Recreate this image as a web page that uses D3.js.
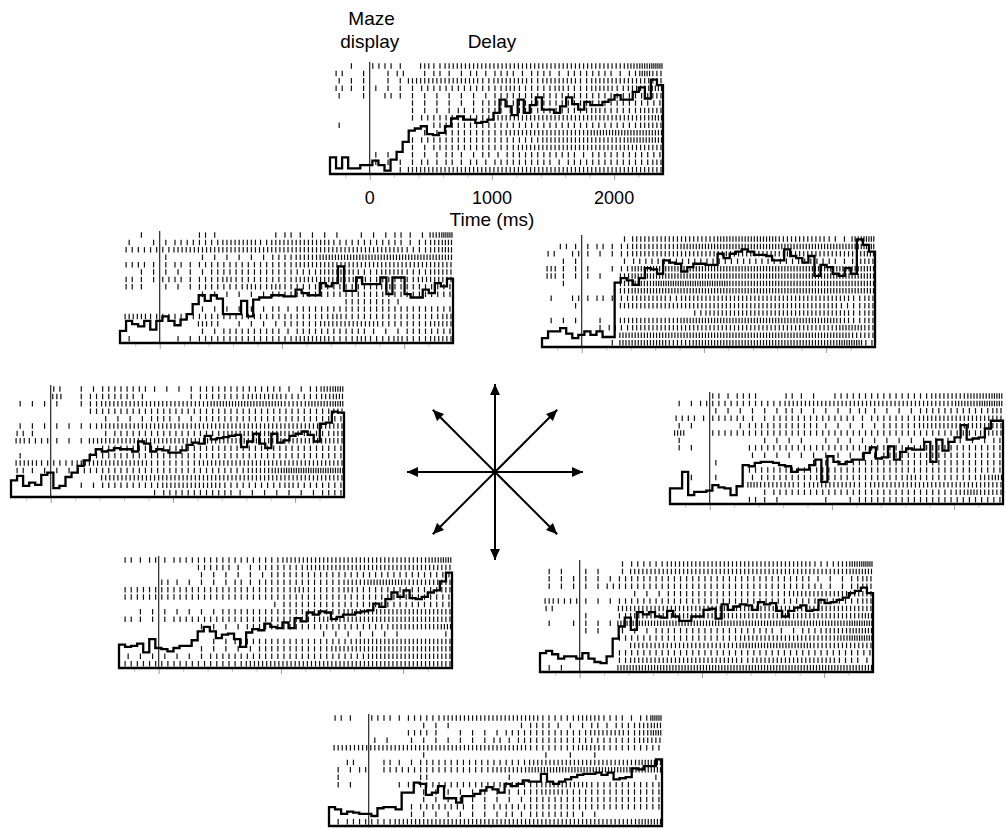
<!DOCTYPE html>
<html>
<head>
<meta charset="utf-8">
<script src="https://cdn.jsdelivr.net/npm/d3@7"></script>
<style>
  body { margin: 0; background: #fff; }
  svg { display: block; }
  text { font-family: "Liberation Sans", Arial, sans-serif; fill: #000; }
</style>
</head>
<body>
<div id="chart"></div>
<script>
// ---------- data ----------
const timeStart = -325, timeEnd = 2400;        // ms, span of each panel
const rasterFirstBin = -300, rasterBinMs = 100; // raster rows: spike count per 100 ms bin
const tickLabels = [0, 1000, 2000];
const minorTicks = [-200, 200, 400, 600, 800, 1200, 1400, 1600, 1800, 2200];
const directions = [0, 45, 90, 135, 180, 225, 270, 315]; // deg, compass arrows

// PSTH, 55 bins, % of panel height
const psthUp = [15,5,15,5,5,8,8,12,8,3,13,20,29,39,41,43,36,35,37,43,50,52,49,49,46,47,49,55,67,61,53,67,55,62,69,58,58,55,61,69,63,58,65,62,62,65,67,71,67,67,74,78,68,85,80];
const psthUL = [11,20,17,15,20,12,20,24,20,16,21,26,35,43,38,43,40,26,26,26,38,24,39,41,41,43,43,42,42,48,45,43,43,54,51,54,69,47,47,59,53,53,53,59,44,59,59,44,41,41,48,45,54,51,58];
const psthUR = [8,14,14,17,12,8,11,14,11,14,9,9,58,62,60,56,62,71,70,66,78,76,75,68,72,75,75,74,74,84,80,84,86,88,86,83,83,82,78,78,88,82,80,76,82,64,74,72,66,64,71,66,97,92,86];
const psthLeft = [15,19,10,13,11,20,22,8,10,18,22,28,33,38,43,41,42,44,43,43,41,50,48,41,43,42,40,40,42,47,49,48,55,52,53,54,55,56,45,50,57,48,44,57,49,51,55,57,59,56,50,66,67,77,76];
const psthRight = [14,14,29,8,11,11,12,17,15,14,8,16,35,34,37,38,38,37,35,34,29,31,31,35,40,20,43,38,36,38,40,40,46,51,41,42,52,40,47,50,49,49,56,38,58,48,56,60,71,58,59,60,68,75,75];
const psthLL = [21,19,20,22,14,26,18,17,15,18,20,20,25,33,37,33,27,30,31,26,19,32,35,34,40,37,36,41,36,45,42,50,48,51,50,44,46,48,48,50,51,52,58,55,62,68,64,70,63,62,64,68,70,78,86];
const psthLR = [17,19,16,12,14,14,12,17,12,9,8,14,30,41,49,38,54,52,54,50,49,55,50,46,46,50,50,56,57,48,61,56,59,61,60,56,63,61,62,55,50,55,58,60,55,56,65,62,63,65,67,71,73,76,71];
const psthDown = [17,15,11,13,12,11,11,9,16,17,17,15,30,30,39,38,28,30,36,25,25,21,27,27,29,32,35,33,30,38,36,38,41,40,40,47,40,38,40,42,44,46,47,47,48,46,48,42,43,44,52,51,54,54,60];

// rasters: 15 trials, one digit = spikes in a 100 ms bin from -300 ms
const rasterUp = [
  "010221032333333333333333456", "201012012112122122122221253", "111011333333233323332333333",
  "211111122222223222322332334", "101021111111122222222222223", "000000111111222222222222222",
  "000000111121221222222322233", "000000122222233333333333334", "100000002222222222222222233",
  "000000011222223333333444444", "000000122222222223333333444", "000000112222222333333333333",
  "000110111211212222221222222", "000111121212122222122222223", "000001333333333333333333333"];
const rasterUL = [
  "010000210000121111011121146", "101122223332333332222221234", "222233333333333333333332234",
  "000100111111223344444444444", "221121222222223333333333333", "011111122222222233322332233",
  "211221223222223333332222333", "210111222232322222222322222", "000000111111222222222222222",
  "000000000000000000222210000", "000000111111212222222222222", "332222222222222223222222223",
  "000000320111122233333222233", "000000112222212222221112222", "100011222222223332232232233"];
const rasterUR = [
  "000000133333334444433332145", "021121233334444444444444445", "202111233333333333333333334",
  "011000122222222222222222133", "311101244444444444444444444", "311110344444444444444444444",
  "010000344555555444444444444", "000000344444444444444444444", "102121233323333333333333323",
  "001000333333333333333333223", "000000000000233333333333323", "111010333334444444444444323",
  "000012233333333333333333443", "000000444444444444444444433", "000001444433444444444444552"];
const rasterLeft = [
  "000201122221111222222211245", "000301222210001222233322234", "111101233333333344444433445",
  "000000222222222222222222223", "000000011112211222222222222", "111111233333333333333333333",
  "210000012222222223333332223", "322111333333333333333333333", "000000022222222222222222222",
  "100000222222222222222222222", "332223333332222333333333333", "211112222222222222233455555",
  "000000033333333333333333333", "000001122222333332222232222", "000000000001222222111111122"];
const rasterRight = [
  "000212200211022222222333445", "112222222333333333333334455", "000111111211111211112222223",
  "221222112222222122223333333", "110001222222111112223333333", "400222222222222222222222233",
  "100000011110111111111111112", "110000222222222222222222222", "000000111111111112222222222",
  "000100000001112222222222222", "000000222222222222222222222", "010100122222222222232222234",
  "000000433323333233333333333", "000000012222222222222223433", "000000211000101222222222222"];
const rasterLL = [
  "212122222222233333333333345", "000000222112222333333333333", "000000111111222222222222222",
  "000211111212222222334443333", "222222222222223222322222223", "222222222222222222222222222",
  "000000000000122222222222222", "011111112222222222333333333", "211122222222222233333333333",
  "000000111122222222222233334", "000000000000000011111110001", "000000011222222222233333333",
  "000000111112222223333333333", "111111122222222222223333333", "222222222233333333333333333"];
const rasterLR = [
  "000000122233333333333322356", "110110133333333333333333344", "111111222222222222222211123",
  "111112222222222222222221123", "000000011122222222223333333", "322111222222222222222222223",
  "200000333333333333333333333", "000100233333333333333333334", "101111444444444444444444455",
  "000110111222222222211223344", "000000222222222233333333455", "000000033333333344444433333",
  "000000222222222222222222222", "000000233333333323333333221", "110000444444444444444444444"];
const rasterDown = [
  "210221222333333332223322126", "000000011100000122111212234", "000000221011112222222333235",
  "000110111111121222222222233", "333333333333333322223322222", "000000010000000001010100000",
  "020021122222222233333333344", "112022222222233344444444444", "100000020000001000000000001",
  "110001222222222223333222222", "000000011111111223322222222", "000000011111111122222222222",
  "000000122221122222222222222", "000000111111112122221100000", "122223333333333333333333344"];

// ---------- layout ----------
const W = 1006, H = 828;
const PW = 333, PH = 111;
const panels = [
  { psth: psthUp,    raster: rasterUp,    left: 330, bottom: 174, labels: true },
  { psth: psthUL,    raster: rasterUL,    left: 120, bottom: 343 },
  { psth: psthUR,    raster: rasterUR,    left: 542, bottom: 347 },
  { psth: psthLeft,  raster: rasterLeft,  left: 11,  bottom: 497 },
  { psth: psthRight, raster: rasterRight, left: 670, bottom: 504 },
  { psth: psthLL,    raster: rasterLL,    left: 119, bottom: 668 },
  { psth: psthLR,    raster: rasterLR,    left: 540, bottom: 672 },
  { psth: psthDown,  raster: rasterDown,  left: 329, bottom: 826 }
];

const svg = d3.select("#chart").append("svg")
  .attr("width", W).attr("height", H)
  .attr("viewBox", `0 0 ${W} ${H}`);

const x = d3.scaleLinear().domain([timeStart, timeEnd]).range([0, PW]);
const y = d3.scaleLinear().domain([0, 100]).range([PH, 0]);

function drawPanel(p) {
  const g = svg.append("g").attr("transform", `translate(${p.left},${p.bottom - PH})`);
  const row = d3.scaleBand().domain(d3.range(p.raster.length)).range([0, PH]);

  // spikes -> times
  const spikes = [];
  p.raster.forEach((s, i) => {
    s.split("").forEach((c, b) => {
      const n = +c, t0 = rasterFirstBin + b * rasterBinMs;
      for (let k = 0; k < n; k++) spikes.push({ row: i, t: t0 + (k + 0.5) * rasterBinMs / n });
    });
  });

  // ticks under the baseline: light minor ones, slightly longer at 0/1000/2000
  const minor = g.append("g").attr("transform", `translate(0,${PH})`)
    .call(d3.axisBottom(x).tickValues(minorTicks).tickSize(4).tickFormat(""));
  minor.select(".domain").remove();
  minor.selectAll("line").attr("stroke", "#c8c8c8");
  const major = g.append("g").attr("transform", `translate(0,${PH})`)
    .call(d3.axisBottom(x).tickValues(tickLabels).tickSize(6).tickFormat(""));
  major.select(".domain").remove();
  major.selectAll("line").attr("stroke", "#9a9a9a");

  g.selectAll("line.spike").data(spikes).join("line")
    .attr("class", "spike")
    .attr("x1", d => x(d.t))
    .attr("x2", d => x(d.t))
    .attr("y1", d => row(d.row) + 0.3)
    .attr("y2", d => row(d.row) + 5.8)
    .attr("stroke", "#111")
    .attr("stroke-width", 1.2);

  // maze display onset
  g.append("line")
    .attr("x1", x(0)).attr("x2", x(0))
    .attr("y1", -1).attr("y2", PH)
    .attr("stroke", "#111").attr("stroke-width", 1.1);

  // PSTH as closed step outline
  const bw = (timeEnd - timeStart) / p.psth.length;
  const pts = [[timeStart, 0]];
  p.psth.forEach((v, i) => {
    pts.push([timeStart + i * bw, v], [timeStart + (i + 1) * bw, v]);
  });
  pts.push([timeEnd, 0]);
  const line = d3.line().x(d => x(d[0])).y(d => y(d[1]));
  g.append("path")
    .attr("d", line(pts) + "Z")
    .attr("fill", "none")
    .attr("stroke", "#000")
    .attr("stroke-width", 2.3)
    .attr("stroke-linejoin", "miter");

  if (p.labels) {
    g.selectAll("text.tl").data(tickLabels).join("text")
      .attr("class", "tl")
      .attr("x", d => x(d)).attr("y", PH + 30)
      .attr("text-anchor", "middle")
      .attr("font-size", 18)
      .text(d => d);
    g.append("text").attr("x", x(1000)).attr("y", PH + 52)
      .attr("text-anchor", "middle").attr("font-size", 19).text("Time (ms)");
    g.append("text").attr("x", x(15)).attr("y", -38)
      .attr("text-anchor", "middle").attr("font-size", 19).text("Maze");
    g.append("text").attr("x", x(0)).attr("y", -15)
      .attr("text-anchor", "middle").attr("font-size", 19).text("display");
    g.append("text").attr("x", x(1000)).attr("y", -15)
      .attr("text-anchor", "middle").attr("font-size", 19).text("Delay");
  }
}

panels.forEach(drawPanel);

// ---------- compass of the eight directions ----------
const cx = 495, cy = 472;
const r = d3.scaleLinear().domain([0, 1]).range([0, 88]);
svg.append("defs").append("marker")
  .attr("id", "head")
  .attr("viewBox", "0 0 10 9")
  .attr("refX", 10).attr("refY", 4.5)
  .attr("markerUnits", "userSpaceOnUse")
  .attr("markerWidth", 11).attr("markerHeight", 10)
  .attr("orient", "auto")
  .append("path").attr("d", "M0,0L10,4.5L0,9Z").attr("fill", "#000");

svg.append("g").selectAll("line").data(directions).join("line")
  .attr("x1", cx).attr("y1", cy)
  .attr("x2", d => cx + r(1) * Math.cos(d * Math.PI / 180))
  .attr("y2", d => cy - r(1) * Math.sin(d * Math.PI / 180))
  .attr("stroke", "#000")
  .attr("stroke-width", 2)
  .attr("marker-end", "url(#head)");
</script>
</body>
</html>
